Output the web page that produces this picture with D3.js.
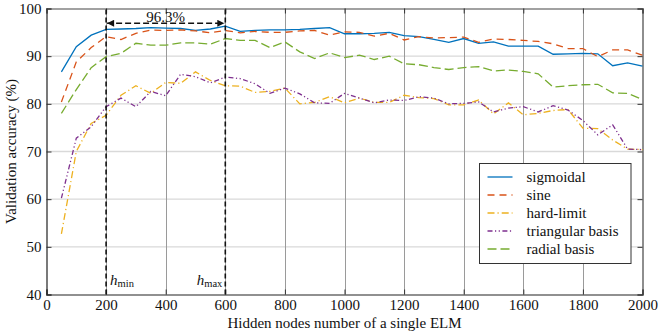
<!DOCTYPE html>
<html>
<head>
<meta charset="utf-8">
<script src="https://cdn.jsdelivr.net/npm/d3@7"></script>
<style>
  html, body { margin: 0; padding: 0; background: #fff; }
  svg { display: block; }
  text { font-family: "Liberation Serif", "Times New Roman", serif; fill: #111; }
</style>
</head>
<body>
<svg id="chart" width="658" height="335"></svg>
<script>
// Number of hidden nodes (x positions of every measurement)
const hiddenNodes = [50, 100, 150, 200, 250, 300, 350, 400, 450, 500,
  550, 600, 650, 700, 750, 800, 850, 900, 950, 1000,
  1050, 1100, 1150, 1200, 1250, 1300, 1350, 1400, 1450, 1500,
  1550, 1600, 1650, 1700, 1750, 1800, 1850, 1900, 1950, 2000];

// Validation accuracy (%) per activation function
const sigmoidal = [86.7, 92.0, 94.4, 95.6, 95.7, 95.8, 96.0, 95.9, 95.8, 95.4,
  95.7, 96.3, 95.2, 95.4, 95.5, 95.5, 95.6, 95.8, 96.0, 94.7,
  94.7, 94.8, 95.0, 94.3, 94.1, 93.5, 92.9, 93.7, 92.7, 93.0,
  92.1, 92.1, 92.1, 90.4, 90.5, 90.6, 90.5, 88.0, 88.6, 87.9];
const sine = [80.4, 88.8, 91.8, 94.1, 93.5, 94.8, 95.5, 95.4, 95.5, 95.3,
  94.9, 95.4, 94.9, 95.2, 95.0, 95.0, 95.3, 95.4, 94.4, 95.1,
  95.0, 94.2, 94.8, 93.4, 94.1, 93.8, 93.9, 94.0, 92.9, 93.6,
  93.5, 93.3, 93.1, 92.6, 91.6, 91.6, 89.9, 91.3, 91.3, 90.2];
const hardLimit = [52.7, 70.0, 75.9, 77.6, 81.8, 83.8, 82.2, 84.5, 84.3, 86.7,
  84.9, 83.8, 83.7, 82.4, 82.6, 83.3, 80.0, 80.3, 81.5, 80.2,
  81.2, 80.3, 80.3, 81.8, 81.3, 81.1, 79.8, 79.8, 80.8, 77.9,
  80.2, 77.7, 78.0, 78.6, 78.8, 74.9, 74.8, 72.4, 70.5, 70.4];
const triangularBasis = [60.2, 72.8, 75.2, 79.4, 81.2, 79.4, 82.6, 81.7, 86.2, 85.7,
  84.4, 85.6, 85.3, 84.2, 82.2, 83.3, 82.1, 80.2, 80.1, 82.2,
  81.2, 80.2, 80.8, 80.7, 81.5, 81.2, 80.0, 80.1, 80.4, 78.3,
  79.1, 79.4, 78.3, 79.6, 78.7, 76.5, 73.5, 75.6, 70.5, 70.4];
const radialBasis = [78.0, 83.0, 87.6, 89.9, 90.6, 92.7, 92.3, 92.3, 92.8, 92.8,
  92.5, 93.7, 93.3, 93.3, 91.8, 93.0, 90.9, 89.5, 90.7, 89.7,
  90.2, 89.3, 90.0, 88.4, 88.2, 87.6, 87.2, 87.6, 87.8, 86.9,
  87.1, 86.8, 86.3, 83.5, 83.8, 84.0, 84.1, 82.3, 82.2, 80.9];

const seriesNames = ["sigmoidal", "sine", "hard-limit", "triangular basis", "radial basis"];
const seriesValues = [sigmoidal, sine, hardLimit, triangularBasis, radialBasis];

const xTicks = [0, 200, 400, 600, 800, 1000, 1200, 1400, 1600, 1800, 2000];
const yTicks = [40, 50, 60, 70, 80, 90, 100];

// Selected range of hidden nodes and the best accuracy inside it
const hMin = 200, hMax = 600;
const bestLabel = "96.3%";

const colors = ["#0072BD", "#D95319", "#EDB120", "#7E2F8E", "#77AC30"];
const dashes = [null, "7,5", "7,3,1.2,3", "5,2.5,1.2,2.5,1.2,2.5", "9,4"];

const svg = d3.select("#chart");
const plotLeft = 46.5, plotRight = 642.5, plotTop = 8.5, plotBottom = 294.5;

const x = d3.scaleLinear().domain([0, 2000]).range([plotLeft, plotRight]);
const y = d3.scaleLinear().domain([40, 100]).range([plotBottom, plotTop]);

// grid
svg.append("g").selectAll("line").data(yTicks.slice(1, -1)).join("line")
  .attr("x1", plotLeft).attr("x2", plotRight)
  .attr("y1", d => y(d)).attr("y2", d => y(d))
  .attr("stroke", "#d9d9d9").attr("stroke-width", 1.4);
svg.append("g").selectAll("line").data(xTicks.slice(1, -1)).join("line")
  .attr("y1", plotTop).attr("y2", plotBottom)
  .attr("x1", d => Math.round(x(d)) + 0.5).attr("x2", d => Math.round(x(d)) + 0.5)
  .attr("stroke", "#9a9a9a").attr("stroke-width", 1);

// axes (ticks pointing inward, box closed on all sides)
const fontSize = 15;
const xAxis = d3.axisBottom(x).tickValues(xTicks).tickSize(-5).tickPadding(5).tickFormat(d3.format("d"));
const yAxis = d3.axisLeft(y).tickValues(yTicks).tickSize(-5).tickPadding(5);
const xAxisTop = d3.axisTop(x).tickValues(xTicks).tickSize(-5).tickFormat("");
const yAxisRight = d3.axisRight(y).tickValues(yTicks).tickSize(-5).tickFormat("");

function styleAxis(g) {
  g.select(".domain").attr("stroke", "#222").attr("stroke-width", 1.2);
  g.selectAll(".tick line").attr("stroke", "#333");
  g.selectAll(".tick text").attr("font-size", fontSize)
    .attr("font-family", "Liberation Serif, serif").attr("fill", "#111");
}
svg.append("g").attr("transform", `translate(0,${plotBottom})`).call(xAxis).call(styleAxis);
svg.append("g").attr("transform", `translate(${plotLeft},0)`).call(yAxis).call(styleAxis);
svg.append("g").attr("transform", `translate(0,${plotTop})`).call(xAxisTop).call(styleAxis)
  .select(".domain").attr("stroke", "#444");
svg.append("g").attr("transform", `translate(${plotRight},0)`).call(yAxisRight).call(styleAxis)
  .select(".domain").attr("stroke", "#444");

// series lines
const line = d3.line().x((d, i) => x(hiddenNodes[i])).y(d => y(d));
seriesValues.forEach((vals, k) => {
  svg.append("path").datum(vals)
    .attr("d", line)
    .attr("fill", "none")
    .attr("stroke", colors[k])
    .attr("stroke-width", 1.3)
    .attr("stroke-dasharray", dashes[k]);
});

// selected range markers
[hMin, hMax].forEach(h => {
  svg.append("line")
    .attr("x1", x(h)).attr("x2", x(h)).attr("y1", y(40)).attr("y2", y(100))
    .attr("stroke", "#111").attr("stroke-width", 1.6).attr("stroke-dasharray", "5,3");
});

const defs = svg.append("defs");
defs.append("marker").attr("id", "arrowEnd")
  .attr("viewBox", "0 0 10 10").attr("refX", 10).attr("refY", 5)
  .attr("markerWidth", 9).attr("markerHeight", 7).attr("markerUnits", "userSpaceOnUse")
  .attr("orient", "auto-start-reverse")
  .append("path").attr("d", "M0,0L10,5L0,10z").attr("fill", "#111");

const arrowY = y(96.9);
svg.append("line")
  .attr("x1", x(hMin) + 1).attr("x2", x(hMax) - 1)
  .attr("y1", arrowY).attr("y2", arrowY)
  .attr("stroke", "#111").attr("stroke-width", 1.4).attr("stroke-dasharray", "6,3")
  .attr("marker-start", "url(#arrowEnd)").attr("marker-end", "url(#arrowEnd)");
svg.append("text")
  .attr("x", x((hMin + hMax) / 2)).attr("y", arrowY - 1.5)
  .attr("text-anchor", "middle").attr("font-size", fontSize).text(bestLabel);

// h_min / h_max labels
function hLabel(xPos, anchor, sub) {
  const t = svg.append("text").attr("x", xPos).attr("y", 285)
    .attr("text-anchor", anchor).attr("font-size", fontSize);
  t.append("tspan").attr("font-style", "italic").text("h");
  t.append("tspan").attr("font-size", 10.5).attr("dy", 2).text(sub);
}
hLabel(x(hMin) + 4, "start", "min");
hLabel(x(hMax) - 3, "end", "max");

// axis titles
svg.append("text").attr("x", (plotLeft + plotRight) / 2).attr("y", 328)
  .attr("text-anchor", "middle").attr("font-size", fontSize)
  .text("Hidden nodes number of a single ELM");
svg.append("text")
  .attr("transform", `translate(16,${(plotTop + plotBottom) / 2}) rotate(-90)`)
  .attr("text-anchor", "middle").attr("font-size", fontSize)
  .text("Validation accuracy (%)");

// legend
const lg = svg.append("g").attr("transform", "translate(479.5,163.5)");
lg.append("rect").attr("width", 151.5).attr("height", 100)
  .attr("fill", "#fff").attr("stroke", "#333").attr("stroke-width", 1);
seriesNames.forEach((name, k) => {
  const yy = 13.5 + k * 18;
  lg.append("line").attr("x1", 8).attr("x2", 33).attr("y1", yy).attr("y2", yy)
    .attr("stroke", colors[k]).attr("stroke-width", 1.3)
    .attr("stroke-dasharray", dashes[k]);
  lg.append("text").attr("x", 47).attr("y", yy + 5)
    .attr("font-size", fontSize).text(name);
});
</script>
</body>
</html>
